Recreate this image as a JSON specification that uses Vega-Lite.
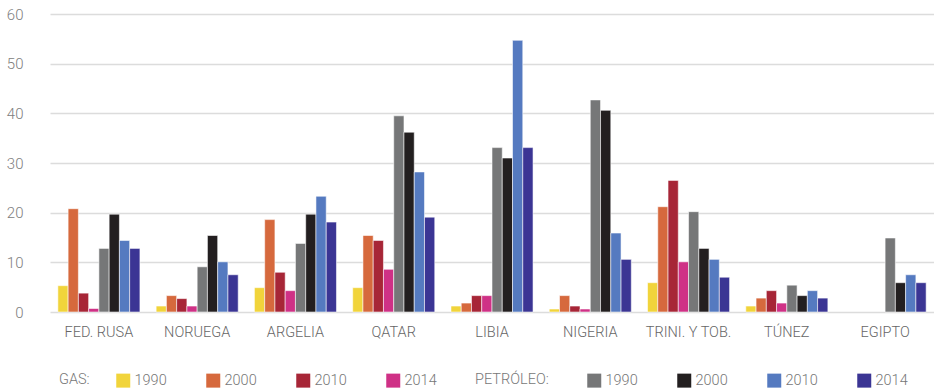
{
  "$schema": "https://vega.github.io/schema/vega-lite/v6.json",
  "width": 884,
  "height": 298,
  "autosize": {"type": "none"},
  "padding": {"left": 50, "top": 14, "right": 0, "bottom": 79},
  "background": "white",
  "config": {
    "font": "Roboto, Liberation Sans, sans-serif",
    "view": {"stroke": null},
    "axis": {"labelFont": "Roboto", "labelFontWeight": 300},
    "legend": {"labelFont": "Roboto", "titleFont": "Roboto", "labelFontWeight": 300}
  },
  "datasets": {
    "gas": [
      {"pais": "FED. RUSA", "serie": "GAS 1990", "anio_gas": "1990", "valor": 5.3},
      {"pais": "FED. RUSA", "serie": "GAS 2000", "anio_gas": "2000", "valor": 20.8},
      {"pais": "FED. RUSA", "serie": "GAS 2010", "anio_gas": "2010", "valor": 3.8},
      {"pais": "FED. RUSA", "serie": "GAS 2014", "anio_gas": "2014", "valor": 0.7},
      {"pais": "NORUEGA", "serie": "GAS 1990", "anio_gas": "1990", "valor": 1.2},
      {"pais": "NORUEGA", "serie": "GAS 2000", "anio_gas": "2000", "valor": 3.3},
      {"pais": "NORUEGA", "serie": "GAS 2010", "anio_gas": "2010", "valor": 2.7},
      {"pais": "NORUEGA", "serie": "GAS 2014", "anio_gas": "2014", "valor": 1.2},
      {"pais": "ARGELIA", "serie": "GAS 1990", "anio_gas": "1990", "valor": 4.9},
      {"pais": "ARGELIA", "serie": "GAS 2000", "anio_gas": "2000", "valor": 18.6},
      {"pais": "ARGELIA", "serie": "GAS 2010", "anio_gas": "2010", "valor": 8.0},
      {"pais": "ARGELIA", "serie": "GAS 2014", "anio_gas": "2014", "valor": 4.3},
      {"pais": "QATAR", "serie": "GAS 1990", "anio_gas": "1990", "valor": 4.9},
      {"pais": "QATAR", "serie": "GAS 2000", "anio_gas": "2000", "valor": 15.4},
      {"pais": "QATAR", "serie": "GAS 2010", "anio_gas": "2010", "valor": 14.4},
      {"pais": "QATAR", "serie": "GAS 2014", "anio_gas": "2014", "valor": 8.6},
      {"pais": "LIBIA", "serie": "GAS 1990", "anio_gas": "1990", "valor": 1.2},
      {"pais": "LIBIA", "serie": "GAS 2000", "anio_gas": "2000", "valor": 1.8},
      {"pais": "LIBIA", "serie": "GAS 2010", "anio_gas": "2010", "valor": 3.3},
      {"pais": "LIBIA", "serie": "GAS 2014", "anio_gas": "2014", "valor": 3.3},
      {"pais": "NIGERIA", "serie": "GAS 1990", "anio_gas": "1990", "valor": 0.6},
      {"pais": "NIGERIA", "serie": "GAS 2000", "anio_gas": "2000", "valor": 3.3},
      {"pais": "NIGERIA", "serie": "GAS 2010", "anio_gas": "2010", "valor": 1.2},
      {"pais": "NIGERIA", "serie": "GAS 2014", "anio_gas": "2014", "valor": 0.6},
      {"pais": "TRINI. Y TOB.", "serie": "GAS 1990", "anio_gas": "1990", "valor": 5.9},
      {"pais": "TRINI. Y TOB.", "serie": "GAS 2000", "anio_gas": "2000", "valor": 21.2},
      {"pais": "TRINI. Y TOB.", "serie": "GAS 2010", "anio_gas": "2010", "valor": 26.5},
      {"pais": "TRINI. Y TOB.", "serie": "GAS 2014", "anio_gas": "2014", "valor": 10.1},
      {"pais": "TÚNEZ", "serie": "GAS 1990", "anio_gas": "1990", "valor": 1.2},
      {"pais": "TÚNEZ", "serie": "GAS 2000", "anio_gas": "2000", "valor": 2.8},
      {"pais": "TÚNEZ", "serie": "GAS 2010", "anio_gas": "2010", "valor": 4.3},
      {"pais": "TÚNEZ", "serie": "GAS 2014", "anio_gas": "2014", "valor": 1.8}
    ],
    "petroleo": [
      {"pais": "FED. RUSA", "serie": "PETRÓLEO 1990", "anio_petroleo": "1990", "valor": 12.8},
      {"pais": "FED. RUSA", "serie": "PETRÓLEO 2000", "anio_petroleo": "2000", "valor": 19.7},
      {"pais": "FED. RUSA", "serie": "PETRÓLEO 2010", "anio_petroleo": "2010", "valor": 14.4},
      {"pais": "FED. RUSA", "serie": "PETRÓLEO 2014", "anio_petroleo": "2014", "valor": 12.8},
      {"pais": "NORUEGA", "serie": "PETRÓLEO 1990", "anio_petroleo": "1990", "valor": 9.1},
      {"pais": "NORUEGA", "serie": "PETRÓLEO 2000", "anio_petroleo": "2000", "valor": 15.4},
      {"pais": "NORUEGA", "serie": "PETRÓLEO 2010", "anio_petroleo": "2010", "valor": 10.1},
      {"pais": "NORUEGA", "serie": "PETRÓLEO 2014", "anio_petroleo": "2014", "valor": 7.5},
      {"pais": "ARGELIA", "serie": "PETRÓLEO 1990", "anio_petroleo": "1990", "valor": 13.8},
      {"pais": "ARGELIA", "serie": "PETRÓLEO 2000", "anio_petroleo": "2000", "valor": 19.7},
      {"pais": "ARGELIA", "serie": "PETRÓLEO 2010", "anio_petroleo": "2010", "valor": 23.3},
      {"pais": "ARGELIA", "serie": "PETRÓLEO 2014", "anio_petroleo": "2014", "valor": 18.1},
      {"pais": "QATAR", "serie": "PETRÓLEO 1990", "anio_petroleo": "1990", "valor": 39.5},
      {"pais": "QATAR", "serie": "PETRÓLEO 2000", "anio_petroleo": "2000", "valor": 36.2},
      {"pais": "QATAR", "serie": "PETRÓLEO 2010", "anio_petroleo": "2010", "valor": 28.2},
      {"pais": "QATAR", "serie": "PETRÓLEO 2014", "anio_petroleo": "2014", "valor": 19.1},
      {"pais": "LIBIA", "serie": "PETRÓLEO 1990", "anio_petroleo": "1990", "valor": 33.1},
      {"pais": "LIBIA", "serie": "PETRÓLEO 2000", "anio_petroleo": "2000", "valor": 31.0},
      {"pais": "LIBIA", "serie": "PETRÓLEO 2010", "anio_petroleo": "2010", "valor": 54.7},
      {"pais": "LIBIA", "serie": "PETRÓLEO 2014", "anio_petroleo": "2014", "valor": 33.1},
      {"pais": "NIGERIA", "serie": "PETRÓLEO 1990", "anio_petroleo": "1990", "valor": 42.7},
      {"pais": "NIGERIA", "serie": "PETRÓLEO 2000", "anio_petroleo": "2000", "valor": 40.6},
      {"pais": "NIGERIA", "serie": "PETRÓLEO 2010", "anio_petroleo": "2010", "valor": 15.9},
      {"pais": "NIGERIA", "serie": "PETRÓLEO 2014", "anio_petroleo": "2014", "valor": 10.6},
      {"pais": "TRINI. Y TOB.", "serie": "PETRÓLEO 1990", "anio_petroleo": "1990", "valor": 20.2},
      {"pais": "TRINI. Y TOB.", "serie": "PETRÓLEO 2000", "anio_petroleo": "2000", "valor": 12.8},
      {"pais": "TRINI. Y TOB.", "serie": "PETRÓLEO 2010", "anio_petroleo": "2010", "valor": 10.6},
      {"pais": "TRINI. Y TOB.", "serie": "PETRÓLEO 2014", "anio_petroleo": "2014", "valor": 7.0},
      {"pais": "TÚNEZ", "serie": "PETRÓLEO 1990", "anio_petroleo": "1990", "valor": 5.4},
      {"pais": "TÚNEZ", "serie": "PETRÓLEO 2000", "anio_petroleo": "2000", "valor": 3.3},
      {"pais": "TÚNEZ", "serie": "PETRÓLEO 2010", "anio_petroleo": "2010", "valor": 4.3},
      {"pais": "TÚNEZ", "serie": "PETRÓLEO 2014", "anio_petroleo": "2014", "valor": 2.8},
      {"pais": "EGIPTO", "serie": "PETRÓLEO 1990", "anio_petroleo": "1990", "valor": 14.9},
      {"pais": "EGIPTO", "serie": "PETRÓLEO 2000", "anio_petroleo": "2000", "valor": 5.9},
      {"pais": "EGIPTO", "serie": "PETRÓLEO 2010", "anio_petroleo": "2010", "valor": 7.5},
      {"pais": "EGIPTO", "serie": "PETRÓLEO 2014", "anio_petroleo": "2014", "valor": 5.9}
    ]
  },
  "encoding": {
    "x": {
      "field": "pais",
      "type": "nominal",
      "sort": null,
      "scale": {
        "domain": ["FED. RUSA", "NORUEGA", "ARGELIA", "QATAR", "LIBIA", "NIGERIA", "TRINI. Y TOB.", "TÚNEZ", "EGIPTO"],
        "paddingInner": 0.165,
        "paddingOuter": 0.08
      },
      "axis": {
        "title": null,
        "labelAngle": 0,
        "domain": false,
        "ticks": false,
        "labelPadding": 13,
        "labelFontSize": 14.5,
        "labelColor": "#666666"
      }
    },
    "xOffset": {
      "field": "serie",
      "type": "nominal",
      "scale": {
        "domain": ["GAS 1990", "GAS 2000", "GAS 2010", "GAS 2014", "PETRÓLEO 1990", "PETRÓLEO 2000", "PETRÓLEO 2010", "PETRÓLEO 2014"],
        "paddingInner": 0,
        "paddingOuter": 0
      }
    },
    "y": {
      "field": "valor",
      "type": "quantitative",
      "scale": {"domain": [0, 60], "nice": false},
      "axis": {
        "title": null,
        "values": [0, 10, 20, 30, 40, 50, 60],
        "domain": false,
        "ticks": false,
        "tickSize": 0,
        "labelPadding": 27,
        "labelFontSize": 15,
        "labelColor": "#808080",
        "gridColor": "#dcdcdc",
        "gridWidth": 1.3
      }
    }
  },
  "layer": [
    {
      "data": {"name": "gas"},
      "mark": {"type": "bar", "stroke": "white", "strokeWidth": 1, "strokeOpacity": 0.55},
      "encoding": {
        "color": {
          "field": "anio_gas",
          "type": "nominal",
          "scale": {"range": ["#f1d43b", "#d6693d", "#a72637", "#cf3186"]},
          "legend": {
            "title": "GAS:",
            "orient": "none",
            "direction": "horizontal",
            "columns": 4,
            "legendX": 9,
            "legendY": 359,
            "titleOrient": "left",
            "titlePadding": 26,
            "titleFontSize": 14.5,
            "titleFontWeight": 300,
            "titleColor": "#777777",
            "titleBaseline": "middle",
            "titleAnchor": "middle",
            "symbolType": "square",
            "symbolSize": 196,
            "symbolStrokeWidth": 0,
            "symbolOpacity": 1,
            "labelOffset": 4,
            "labelFontSize": 14.5,
            "labelColor": "#777777",
            "columnPadding": 39
          }
        }
      }
    },
    {
      "data": {"name": "petroleo"},
      "mark": {"type": "bar", "stroke": "white", "strokeWidth": 1, "strokeOpacity": 0.55},
      "encoding": {
        "fill": {
          "field": "anio_petroleo",
          "type": "nominal",
          "scale": {"range": ["#767778", "#231f20", "#557ac0", "#3b3594"]},
          "legend": {
            "title": "PETRÓLEO:",
            "orient": "none",
            "direction": "horizontal",
            "columns": 4,
            "legendX": 425,
            "legendY": 359,
            "titleOrient": "left",
            "titlePadding": 38,
            "titleFontSize": 14.5,
            "titleFontWeight": 300,
            "titleColor": "#777777",
            "titleBaseline": "middle",
            "titleAnchor": "middle",
            "symbolType": "square",
            "symbolSize": 196,
            "symbolStrokeWidth": 0,
            "symbolOpacity": 1,
            "labelOffset": 4,
            "labelFontSize": 14.5,
            "labelColor": "#777777",
            "columnPadding": 39
          }
        }
      }
    }
  ]
}
